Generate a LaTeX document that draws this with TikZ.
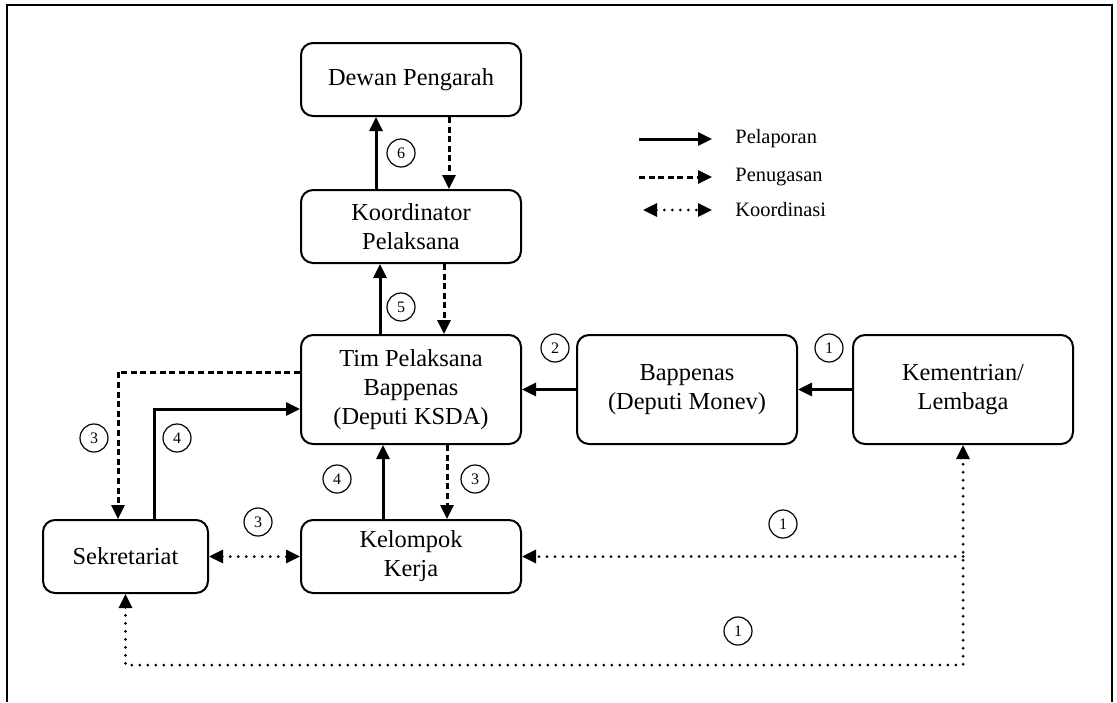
\documentclass[tikz,border=0pt]{standalone}
\usepackage{fontspec}
\setmainfont{Liberation Serif}
\usetikzlibrary{positioning, arrows.meta, calc}

\begin{document}
\begin{tikzpicture}[
    x=0.5pt, y=-0.5pt,
    box/.style={draw, line width=1pt, rounded corners=6pt, align=center, inner sep=0pt,
                minimum width=110pt, font=\fontsize{12.2}{14.6}\selectfont},
    tip/.style={-{Triangle[length=7pt, width=6.5pt]}},
    lapor/.style={line width=1.5pt, tip},
    tugas/.style={line width=1.5pt, dash pattern=on 3pt off 1.8pt, tip},
    koord/.style={line width=1.5pt, line cap=round, dash pattern=on 0pt off 4pt},
    nomor/.style={draw, circle, line width=0.6pt, minimum size=14pt, inner sep=0pt,
                  font=\fontsize{8}{9}\selectfont},
    legenda/.style={anchor=west, inner sep=0pt, font=\fontsize{10.2}{12}\selectfont}
  ]
  \useasboundingbox (0,0) rectangle (1117,702);
  \draw[line width=1pt] (7,702) -- (7,5) -- (1112,5) -- (1112,702);

  % kotak
  \node[box, minimum height=36.5pt] (dewan) at (411,79.5) {Dewan Pengarah};
  \node[box, minimum height=36.5pt] (koor) at (411,226.5) {Koordinator\\Pelaksana};
  \node[box, minimum height=54.5pt] (tim) at (411,389.5) {Tim Pelaksana\\Bappenas\\(Deputi KSDA)};
  \node[box, minimum height=54.5pt] (bap) at (687,389.5) {Bappenas\\(Deputi Monev)};
  \node[box, minimum height=54.5pt] (kem) at (963,389.5) {Kementrian/\\Lembaga};
  \node[box, minimum height=36.5pt, minimum width=82.5pt] (sek) at (125.5,556.5) {Sekretariat};
  \node[box, minimum height=36.5pt] (kel) at (411,556.5) {Kelompok\\Kerja};

  % alur
  \draw[lapor] ($(koor.north)+(-35,0)$) coordinate (a6) -- (a6 |- dewan.south);
  \draw[tugas] ($(dewan.south)+(38,0)$) coordinate (b6) -- (b6 |- koor.north);
  \draw[lapor] ($(tim.north)+(-31,0)$) coordinate (a5) -- (a5 |- koor.south);
  \draw[tugas] ($(koor.south)+(33,0)$) coordinate (b5) -- (b5 |- tim.north);
  \draw[lapor] (kem.west) -- (bap.east);
  \draw[lapor] (bap.west) -- (tim.east);
  \draw[tugas] ($(tim.west)+(0,-17.5)$) -| ($(sek.north)+(-7.5,0)$);
  \draw[lapor] ($(sek.north)+(28.5,0)$) |- ($(tim.west)+(0,19.5)$);
  \draw[lapor] ($(kel.north)+(-28,0)$) coordinate (a4) -- (a4 |- tim.south);
  \draw[tugas] ($(tim.south)+(36,0)$) coordinate (b3) -- (b3 |- kel.north);
  \draw[koord, {Triangle[length=7pt, width=6.5pt]}-{Triangle[length=7pt, width=6.5pt]}] (sek.east) -- (kel.west);
  \coordinate (sudut) at ($(kem.south)+(0,220)$);
  \draw[koord, {Triangle[length=7pt, width=6.5pt]}-{Triangle[length=7pt, width=6.5pt]}] (sek.south) |- (sudut) -- (kem.south);
  \draw[koord, tip] (kem.south |- kel.east) -- (kel.east);

  % nomor
  \node[nomor] (n6) at (401,153) {6};
  \node[nomor] (n5) at (401,307) {5};
  \node[nomor] (n2) at (555,348) {2};
  \node[nomor] (n1a) at (829,348) {1};
  \node[nomor] (n3a) at (94,438) {3};
  \node[nomor] (n4a) at (177,438) {4};
  \node[nomor] (n4b) at (337,479) {4};
  \node[nomor] (n3b) at (475,479) {3};
  \node[nomor] (n3c) at (258,522) {3};
  \node[nomor] (n1b) at (783,524) {1};
  \node[nomor] (n1c) at (738,631) {1};

  % legenda
  \node[legenda] (tLapor) at (735,139) {Pelaporan};
  \node[legenda] (tTugas) at (735,177) {Penugasan};
  \node[legenda] (tKoord) at (735,210) {Koordinasi};
  \draw[lapor] ($(tLapor.west)+(-96,0)$) -- ($(tLapor.west)+(-23,0)$);
  \draw[tugas] ($(tTugas.west)+(-96,0)$) -- ($(tTugas.west)+(-23,0)$);
  \draw[koord, {Triangle[length=7pt, width=6.5pt]}-{Triangle[length=7pt, width=6.5pt]}]
    ($(tKoord.west)+(-92,0)$) -- ($(tKoord.west)+(-23,0)$);
\end{tikzpicture}
\end{document}
